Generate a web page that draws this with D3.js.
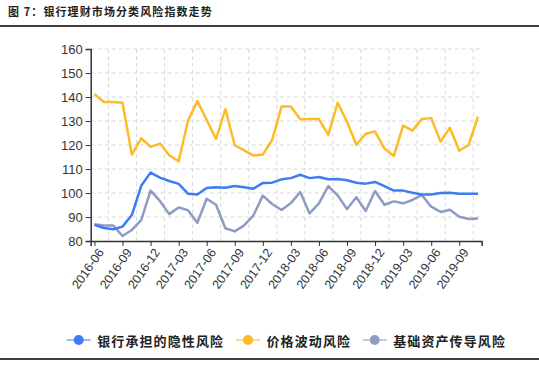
<!DOCTYPE html>
<html>
<head>
<meta charset="utf-8">
<script src="https://cdn.jsdelivr.net/npm/d3@7"></script>
<style>
  body { margin: 0; background: #fff; }
  svg { display: block; font-family: "Noto Sans CJK SC", "Liberation Sans", sans-serif; }
  .axis text { font-family: "Liberation Sans", Arial, sans-serif; fill: #333; }
  .axis path, .axis line { stroke: #333; }
</style>
</head>
<body>
<script>
// months 2016-06 .. 2019-11
var months = [];
for (var m = 0; m < 42; m++) {
  var yr = 2016 + Math.floor((5 + m) / 12), mo = (5 + m) % 12 + 1;
  months.push(yr + "-" + (mo < 10 ? "0" + mo : mo));
}

var seriesNames = ["银行承担的隐性风险", "价格波动风险", "基础资产传导风险"];

var implicitRisk = [86.7, 85.4, 84.9, 86.0, 90.8, 103.0, 108.5, 106.4, 105.0, 103.8,
  99.7, 99.4, 102.1, 102.4, 102.2, 102.9, 102.4, 101.8, 104.2, 104.3,
  105.7, 106.2, 107.6, 106.2, 106.7, 105.7, 105.8, 105.3, 104.3, 103.9,
  104.6, 102.9, 101.0, 101.0, 100.1, 99.4, 99.4, 100.0, 100.1, 99.7, 99.7, 99.7];

var priceRisk = [141.2, 137.9, 137.9, 137.6, 116.0, 122.8, 119.2, 120.6, 115.7, 113.2,
  130.1, 138.3, 130.4, 122.5, 135.0, 119.9, 117.8, 115.6, 116.0, 122.1,
  136.0, 136.0, 130.7, 130.8, 130.8, 124.2, 137.6, 129.7, 120.1, 124.7,
  125.6, 118.6, 115.4, 128.1, 126.0, 130.8, 131.2, 121.4, 127.2, 117.6, 120.0, 131.8];

var assetRisk = [87.0, 86.5, 86.5, 82.1, 84.6, 88.7, 101.0, 96.7, 91.2, 94.0,
  92.8, 87.6, 97.6, 95.1, 85.3, 84.0, 86.5, 90.7, 98.9, 95.4,
  92.9, 95.8, 100.4, 91.5, 95.7, 102.9, 99.0, 93.3, 98.2, 92.5,
  100.8, 95.1, 96.5, 95.7, 97.1, 99.2, 94.3, 92.1, 93.0, 90.1, 89.2, 89.4];

var yTicks = [80, 90, 100, 110, 120, 130, 140, 150, 160];
var colors = ["#3e7cf3", "#fdbb27", "#8e9cc2"];
var legendLine = ["#9dbcf7", "#fdd98c", "#c3cbe0"];

var W = 539, H = 371;
var plot = {left: 90.7, right: 481.7, top: 49, bottom: 241};

var svg = d3.select("body").append("svg")
  .attr("width", W)
  .attr("height", H);

// title + rules
svg.append("text")
  .attr("x", 8).attr("y", 16)
  .attr("font-size", "11px")
  .attr("font-weight", "bold")
  .attr("letter-spacing", "1.1px")
  .attr("fill", "#222")
  .text("图 7：银行理财市场分类风险指数走势");

svg.append("line").attr("x1", 0).attr("x2", W).attr("y1", 26).attr("y2", 26)
  .attr("stroke", "#000").attr("stroke-width", 1.5);
svg.append("line").attr("x1", 0).attr("x2", W).attr("y1", 359).attr("y2", 359)
  .attr("stroke", "#000").attr("stroke-width", 1.5);

var x = d3.scalePoint().domain(months).range([plot.left, plot.right]).padding(0.4);
var y = d3.scaleLinear().domain([80, 160]).range([plot.bottom, plot.top]);
var step = x.step();

// grid
var grid = svg.append("g").attr("stroke", "#d9d9d9").attr("stroke-dasharray", "4,3");
grid.selectAll(".hg").data(yTicks.slice(1)).enter().append("line")
  .attr("x1", plot.left).attr("x2", plot.right)
  .attr("y1", function(d){ return y(d); })
  .attr("y2", function(d){ return y(d); });
grid.selectAll(".vg").data(months.filter(function(d, i){ return i % 3 == 0 && i + 1.5 < months.length; }))
  .enter().append("line")
  .attr("x1", function(d){ return x(d) + 1.5 * step; })
  .attr("x2", function(d){ return x(d) + 1.5 * step; })
  .attr("y1", plot.top).attr("y2", plot.bottom);

// axes
var xAxis = d3.axisBottom(x)
  .tickValues(months.filter(function(d, i){ return i % 3 == 0; }))
  .tickSizeOuter(0).tickSize(5);
var gx = svg.append("g").attr("class", "axis")
  .attr("transform", "translate(0," + plot.bottom + ")")
  .call(xAxis);
gx.select(".domain").attr("stroke-width", 1.5);
gx.selectAll("text")
  .attr("font-size", "12.5px")
  .attr("text-anchor", "end")
  .attr("dx", "-0.3em").attr("dy", "0.5em")
  .attr("transform", "rotate(-55)");

var yAxis = d3.axisLeft(y).tickValues(yTicks).tickSizeOuter(0).tickSize(5);
var gy = svg.append("g").attr("class", "axis")
  .attr("transform", "translate(" + plot.left + ",0)")
  .call(yAxis);
gy.select(".domain").attr("stroke-width", 1.5);
gy.selectAll("text").attr("font-size", "13px");

// lines
var allSeries = [implicitRisk, priceRisk, assetRisk];
var line = d3.line()
  .x(function(d, i){ return x(months[i]); })
  .y(function(d){ return y(d); });

// draw grey first, then orange, blue on top
[2, 1, 0].forEach(function(k){
  svg.append("path")
    .datum(allSeries[k])
    .attr("fill", "none")
    .attr("stroke", colors[k])
    .attr("stroke-width", 2.5)
    .attr("stroke-linejoin", "round")
    .attr("d", line);
});

// legend
var legX = [66.7, 236, 362.7];
var legY = 340;
for (var k = 0; k < 3; k++) {
  var lg = svg.append("g").attr("transform", "translate(" + legX[k] + "," + legY + ")");
  lg.append("line").attr("x1", 0).attr("x2", 24).attr("y1", 0).attr("y2", 0)
    .attr("stroke", legendLine[k]).attr("stroke-width", 2);
  lg.append("circle").attr("cx", 12).attr("cy", 0).attr("r", 5).attr("fill", colors[k]);
  lg.append("text")
    .attr("x", 30.5).attr("y", 0)
    .attr("dominant-baseline", "central")
    .attr("font-size", "13px")
    .attr("font-weight", "bold")
    .attr("letter-spacing", "1.1px")
    .attr("fill", "#222")
    .text(seriesNames[k]);
}
</script>
</body>
</html>
